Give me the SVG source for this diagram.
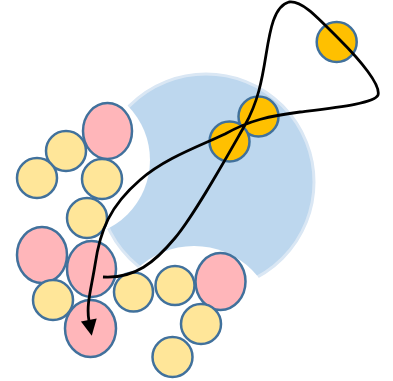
<svg xmlns="http://www.w3.org/2000/svg" width="393" height="381" viewBox="0 0 393 381">
<style>
.y{fill:#ffe699;stroke:#41719c;stroke-width:2.5}
.p{fill:#ffb6ba;stroke:#41719c;stroke-width:2.5}
.o{fill:#ffc000;stroke:#41719c;stroke-width:2.5}
.c{fill:none;stroke:#000;stroke-width:2.8}
</style>
<defs>
<mask id="cut" maskUnits="userSpaceOnUse" x="0" y="0" width="393" height="381">
<rect width="393" height="381" fill="#fff"/>
<circle cx="73" cy="160" r="77" fill="#000"/>
<circle cx="194" cy="328" r="82" fill="#000"/>
</mask>
<marker id="ah" markerUnits="userSpaceOnUse" markerWidth="18" markerHeight="18" refX="0" refY="0" viewBox="0 -9 18 18" orient="auto" overflow="visible">
<path d="M-1,-8 L15,0 L-1,8 Z" fill="#000"/>
</marker>
</defs>
<rect width="393" height="381" fill="#fff"/>
<g id="blue-region">
<circle cx="206" cy="182" r="108" fill="#bdd7ee" stroke="#dae7f4" stroke-width="3" mask="url(#cut)"/>
</g>
<g id="p1"><ellipse class="p" cx="107.5" cy="131" rx="24.5" ry="28"/></g>
<g id="y1"><circle class="y" cx="66" cy="151" r="20"/></g>
<g id="y2"><circle class="y" cx="37" cy="178" r="20"/></g>
<g id="y3"><circle class="y" cx="102" cy="179" r="20"/></g>
<g id="y4"><circle class="y" cx="87" cy="218" r="20"/></g>
<g id="p2"><ellipse class="p" cx="42" cy="255" rx="25" ry="28"/></g>
<g id="y5"><circle class="y" cx="53" cy="300" r="20"/></g>
<g id="p3"><ellipse class="p" cx="91.5" cy="269" rx="24.5" ry="28"/></g>
<g id="p4"><ellipse class="p" cx="90.5" cy="328.5" rx="25.5" ry="28.5"/></g>
<g id="y6"><circle class="y" cx="133.5" cy="292" r="19.5"/></g>
<g id="y7"><circle class="y" cx="175" cy="285.5" r="19.5"/></g>
<g id="p5"><ellipse class="p" cx="220.5" cy="281.5" rx="25" ry="28.5"/></g>
<g id="y8"><circle class="y" cx="201" cy="324" r="20"/></g>
<g id="y9"><circle class="y" cx="172.5" cy="357" r="20"/></g>
<g id="o1"><circle class="o" cx="336.7" cy="42" r="20"/></g>
<g id="o2"><circle class="o" cx="258.5" cy="116.5" r="20"/></g>
<g id="o3"><circle class="o" cx="229.5" cy="141.5" r="20"/></g>
<g id="connectors">
<path class="c" marker-end="url(#ah)" d="M103,277 C135,279 155,262 175,238 C195,214 225,160 245,125 C258,102 262,80 266,55 C270,30 274,6 289,2 C302,0 318,18 340,40 C360,60 381,85 378,95 C375,103 340,107 300,112 C270,116 250,120 225,134 C200,146 165,158 140,180 C110,206 100,230 95,265 C91,290 86,305 89,321"/>
</g>
</svg>
